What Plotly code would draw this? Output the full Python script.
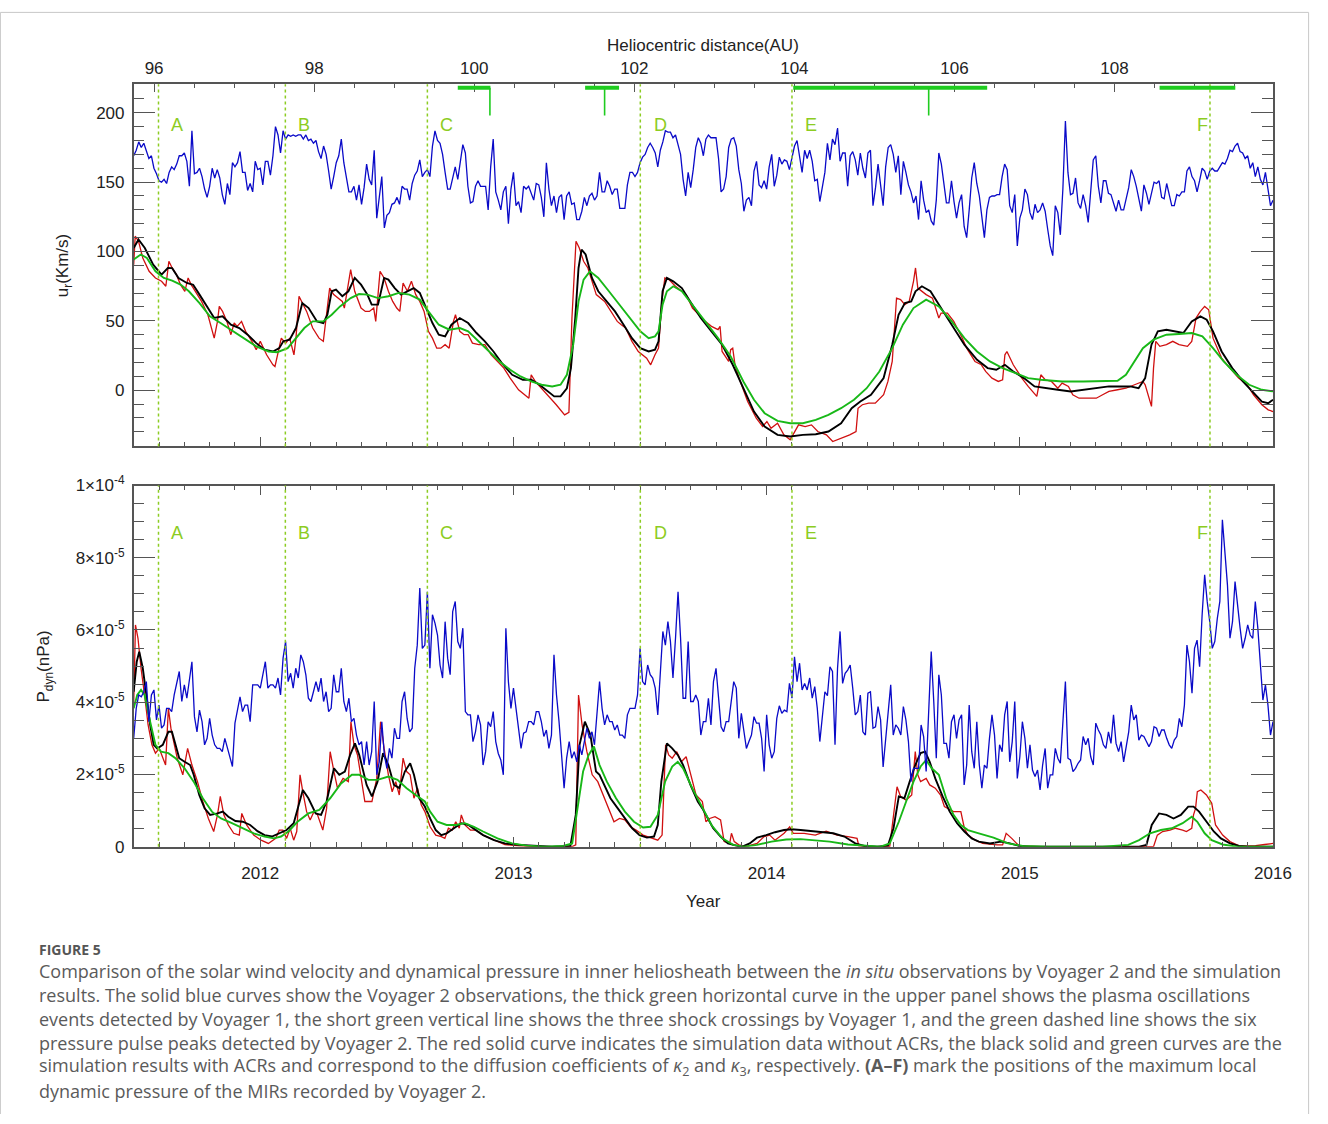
import numpy as np
import plotly.graph_objects as go

W, H = 1328, 1124

# ---------------- data ----------------
# Voyager 2 observation grid (years), 0.01 yr sampling
years_obs = np.round(2011.5 + 0.01 * np.arange(451), 2)

# radial velocity u_r observed by Voyager 2 (km/s)
ur_obs = [
    169,173,179,175,178,172,167,169,160,156,
    151,150,152,149,157,161,159,163,169,169,
    171,165,147,187,156,157,160,154,145,139,
    147,160,153,159,153,141,134,149,141,164,
    161,164,172,157,157,144,149,143,165,159,
    160,148,165,165,155,169,190,184,171,187,
    181,184,183,184,183,184,184,181,184,180,
    181,178,180,172,167,176,170,158,145,154,
    164,169,181,164,152,143,143,147,137,148,
    134,146,163,152,148,173,124,140,154,117,
    126,128,134,135,139,134,147,145,145,137,
    149,155,158,166,154,157,159,154,176,187,
    180,178,170,157,145,145,152,161,152,165,
    177,171,147,135,136,147,151,147,147,147,
    130,161,181,143,137,130,143,147,120,145,
    157,133,136,128,147,145,147,142,137,149,
    148,139,125,164,145,133,140,128,139,141,
    123,140,143,134,135,123,123,129,139,133,
    140,142,137,140,157,143,143,151,147,141,
    145,145,131,131,131,148,157,157,154,157,
    164,168,170,175,178,175,171,161,173,179,
    187,186,186,182,184,177,170,152,140,157,
    146,159,175,182,178,169,
    181,184,182,182,182,167,143,145,154,175,
    181,182,176,159,149,129,137,139,133,158,
    165,148,146,151,145,161,170,147,155,168,
    163,166,165,159,169,176,180,170,157,173,
    167,173,165,151,152,136,147,157,178,166,
    181,177,189,165,171,171,147,169,172,166,
    155,171,160,153,171,173,133,146,163,148,
    133,161,175,177,170,157,169,141,165,157,
    148,143,135,140,123,151,137,128,130,122,
    119,137,171,163,147,135,135,151,136,124,
    135,141,118,110,130,153,164,149,140,123,
    110,130,139,140,140,141,141,154,163,159,
    133,128,141,104,124,130,145,141,128,123,
    134,128,130,135,129,116,104,97,133,128,
    112,145,194,157,141,142,153,135,131,141,
    133,121,141,166,169,147,135,151,151,142,
    141,135,129,137,130,130,139,146,159,154,
    147,139,129,148,142,134,141,150,149,151,
    139,138,149,140,133,133,141,140,143,143,
    158,161,154,151,143,151,160,158,152,158,
    160,158,158,161,164,163,167,173,172,176,
    178,172,171,167,169,160,164,154,161,152,
    148,157,145,133,137,
]

# dynamic pressure observed by Voyager 2 (units of 1e-5 nPa)
pdyn_obs_e5 = [
    3.00,3.83,4.20,4.15,4.29,4.57,3.46,4.20,4.34,3.51,
    3.92,3.28,3.37,3.83,3.83,3.74,4.20,4.57,4.85,4.02,
    4.48,4.11,4.57,5.12,3.60,3.18,3.78,3.46,2.82,3.00,
    3.55,3.09,2.82,2.72,2.72,2.63,3.00,2.72,2.49,2.22,
    3.42,3.83,4.15,3.74,3.92,3.92,3.46,4.48,4.48,4.48,
    4.39,4.76,5.12,4.39,4.48,4.48,4.39,4.67,4.20,5.22,
    5.68,4.57,4.80,4.39,4.94,4.67,5.31,5.12,4.76,4.11,
    4.02,4.29,4.57,4.29,4.67,4.02,4.29,3.74,3.83,4.76,
    4.29,4.29,4.94,4.02,3.74,4.11,3.46,3.55,3.09,2.82,
    2.91,2.26,2.91,2.26,2.63,4.02,1.99,2.35,3.46,2.54,
    2.17,2.72,2.45,3.28,3.00,3.00,4.02,4.29,3.55,3.18,
    3.28,4.94,5.58,7.16,5.49,5.58,7.06,4.94,6.42,6.19,
    5.86,5.03,4.67,6.23,5.22,4.76,6.51,6.79,5.68,5.49,
    6.05,3.74,3.65,3.65,2.91,3.18,3.65,3.37,2.26,2.63,
    3.46,3.32,3.74,2.91,2.58,2.40,1.99,6.05,4.57,3.83,
    4.39,3.83,3.18,2.72,3.14,3.18,3.46,3.46,3.37,3.74,
    3.74,3.46,3.05,3.23,2.72,3.09,5.31,4.20,3.46,2.45,
    1.62,2.45,2.91,2.45,2.63,2.35,2.82,2.54,2.91,3.28,
    3.00,3.18,2.82,3.65,4.57,3.83,3.37,3.65,3.46,3.46,
    3.23,3.37,3.09,3.09,3.00,3.65,3.83,3.83,3.83,4.20,
    5.49,4.57,4.48,5.03,4.76,4.67,4.39,3.65,4.67,5.96,
    5.58,6.23,5.68,4.67,5.77,7.06,5.77,4.11,4.11,5.68,
    4.02,4.02,4.20,4.02,3.09,3.46,
    3.46,4.11,3.37,4.57,4.94,4.20,3.32,3.18,3.46,3.46,
    4.11,4.57,4.39,3.00,3.69,3.18,2.72,2.91,3.09,3.60,
    3.42,3.42,3.00,2.08,3.65,2.82,2.45,2.63,3.55,3.90,
    3.69,3.78,3.74,4.52,4.11,5.26,4.57,5.08,4.34,4.52,
    4.34,4.67,4.11,4.43,3.83,2.91,3.65,4.29,4.18,4.98,
    4.85,2.82,4.94,5.96,4.52,4.80,4.89,5.03,4.39,3.65,
    3.74,4.20,3.18,3.09,4.25,4.29,3.28,3.32,3.88,3.51,
    2.21,2.95,3.69,4.48,3.09,3.37,3.28,3.09,3.88,3.51,
    2.91,1.80,2.17,2.17,2.17,3.37,3.05,2.08,3.65,5.40,
    4.02,2.45,4.76,4.20,2.86,2.86,2.45,3.46,3.65,3.00,
    3.51,3.65,1.71,2.26,3.92,2.63,2.17,3.46,2.26,1.62,
    2.26,2.17,3.00,3.65,3.09,1.89,2.82,2.63,3.65,4.02,
    2.35,2.91,4.02,1.89,2.49,3.46,3.00,2.17,2.82,2.12,
    1.94,2.12,1.57,2.26,2.72,1.62,1.99,1.99,2.72,2.45,
    2.31,3.37,4.57,2.45,2.40,2.08,2.17,2.31,2.40,3.05,
    2.82,3.00,2.49,2.26,3.42,3.23,3.09,2.82,2.72,3.18,
    2.86,3.65,2.86,2.63,2.91,2.35,2.82,3.18,3.92,3.51,
    3.65,2.95,3.09,3.05,2.91,2.77,2.91,3.32,3.28,3.05,
    3.23,3.23,3.00,2.82,2.72,2.95,3.05,3.55,3.32,3.92,
    5.58,5.12,4.25,5.49,5.72,4.98,6.42,7.53,6.79,6.23,
    5.49,5.68,6.32,6.79,9.05,8.26,7.25,5.77,6.23,7.34,
    6.60,6.05,5.49,5.77,6.14,5.86,5.77,6.79,6.05,4.94,
    4.06,4.48,3.92,3.09,3.46,
]

# simulation, u_r (year, km/s): red = no ACRs, black = kappa2, green = kappa3
ur_red = [
    (2011.500,90.5),(2011.506,111),(2011.519,107.4),(2011.536,95.3),(2011.561,85.7),
    (2011.586,80.9),(2011.610,78.5),(2011.627,74.9),(2011.639,92.9),(2011.652,88.1),
    (2011.669,83.3),(2011.685,76.1),(2011.702,71.3),(2011.715,80.9),(2011.727,76.1),
    (2011.743,71.3),(2011.768,64),(2011.793,54.4),(2011.818,37.5),(2011.831,49.6),
    (2011.838,60.4),(2011.851,56.8),(2011.868,49.6),(2011.884,40),(2011.897,48.4),
    (2011.909,46),(2011.926,49.6),(2011.942,42.4),(2011.967,35.2),(2011.984,29.2),
    (2012.000,35.2),(2012.025,25.5),(2012.050,18.3),(2012.058,17.1),(2012.075,32.8),
    (2012.083,37.5),(2012.100,33.9),(2012.116,37.5),(2012.133,25.5),(2012.141,37.5),
    (2012.153,67.7),(2012.166,62.8),(2012.183,56.8),(2012.207,44.8),(2012.232,37.5),
    (2012.249,35.2),(2012.257,47.2),(2012.274,73.6),(2012.290,68.9),(2012.307,66.4),
    (2012.324,64),(2012.332,59.2),(2012.357,86.9),(2012.373,71.3),(2012.398,59.2),
    (2012.415,56.8),(2012.431,56.8),(2012.448,59.2),(2012.456,49.6),(2012.473,85.7),
    (2012.489,80.9),(2012.506,71.3),(2012.523,64),(2012.539,59.2),(2012.551,56.8),
    (2012.564,77.3),(2012.581,71.3),(2012.597,78.5),(2012.614,68.9),(2012.630,64),
    (2012.647,56.8),(2012.664,42.4),(2012.680,37.5),(2012.697,30.3),(2012.713,30.3),
    (2012.730,32.8),(2012.746,30.3),(2012.763,49.6),(2012.771,54.4),(2012.788,42.4),
    (2012.805,40),(2012.821,40),(2012.838,33.9),(2012.863,32.8),(2012.887,32.8),
    (2012.912,25.5),(2012.937,20.7),(2012.962,15.9),(2012.987,8.7),(2013.020,0.3),
    (2013.061,-5.8),(2013.070,11.1),(2013.086,6.3),(2013.111,1.4),(2013.136,-3.3),
    (2013.169,-10.5),(2013.202,-17.8),(2013.219,-16),(2013.231,52),(2013.247,107.4),
    (2013.260,102.5),(2013.277,92.9),(2013.294,88.1),(2013.327,68.9),(2013.360,64),
    (2013.385,56.8),(2013.410,49.6),(2013.426,47.2),(2013.443,44.8),(2013.468,35.2),
    (2013.493,27.9),(2013.526,23.1),(2013.542,18.3),(2013.559,25.5),
    (2013.573,30.3),(2013.586,64),(2013.598,80.9),(2013.614,79.7),(2013.640,74.9),
    (2013.665,71.3),(2013.682,68.9),(2013.707,59.2),(2013.732,54.4),(2013.757,49.6),
    (2013.782,46),(2013.808,43.6),(2013.816,46),(2013.824,27.9),(2013.850,20.7),
    (2013.858,29.2),(2013.866,30.3),(2013.875,18.3),(2013.891,8.7),(2013.925,-8.2),
    (2013.959,-20.2),(2013.984,-26.2),(2014.001,-22.6),(2014.017,-27.4),(2014.043,-23.8),
    (2014.068,-32.2),(2014.093,-35.8),(2014.110,-29.8),(2014.126,-25),(2014.152,-26.2),
    (2014.177,-25),(2014.202,-29.8),(2014.236,-32.2),(2014.261,-37),(2014.294,-34.7),
    (2014.328,-32.2),(2014.353,-29.8),(2014.361,-13),(2014.378,-10.5),(2014.403,-9.4),
    (2014.429,-9.4),(2014.462,-3.3),(2014.479,6.3),(2014.496,20.7),(2014.513,66.4),
    (2014.529,65.3),(2014.546,61.7),(2014.563,64),(2014.580,78.5),(2014.588,88.1),
    (2014.597,73.6),(2014.613,71.3),(2014.630,68.9),(2014.655,66.4),(2014.680,52),
    (2014.689,55.6),(2014.714,55.6),(2014.739,49.6),(2014.756,43.6),(2014.773,37.5),
    (2014.790,30.3),(2014.806,25.5),(2014.823,20.7),(2014.848,18.3),(2014.865,13.5),
    (2014.890,8.7),(2014.915,6.3),(2014.932,7.5),(2014.941,25.5),(2014.949,27.9),
    (2014.974,18.3),(2014.991,13.5),(2015.008,8.7),(2015.033,2.7),(2015.067,-4.5),
    (2015.083,11.1),(2015.100,7.5),(2015.125,6.3),(2015.150,1.4),(2015.167,5.1),
    (2015.192,2.7),(2015.209,-3.3),(2015.234,-5.8),(2015.268,-5.8),(2015.302,-5.8),
    (2015.327,-3.3),(2015.352,-0.9),(2015.386,0.3),(2015.419,1.4),(2015.453,3.9),
    (2015.486,6.3),(2015.495,3.9),(2015.520,-11.7),(2015.528,15.9),(2015.537,35.2),
    (2015.553,31.6),(2015.579,32.8),(2015.604,35.2),(2015.629,32.8),(2015.662,31.6),
    (2015.679,35.2),(2015.696,52),(2015.713,56.8),(2015.730,60.4),(2015.746,58),
    (2015.763,37.5),(2015.797,23.1),(2015.830,15.9),(2015.864,8.7),(2015.898,3.9),
    (2015.923,-3.3),(2015.956,-10.5),(2015.981,-14.2),(2016.000,-15.4),
]
ur_black = [
    (2011.500,102.5),(2011.519,108.6),(2011.544,102.5),(2011.577,90.5),(2011.610,83.3),
    (2011.635,88.1),(2011.652,88),(2011.677,80.9),(2011.710,77.3),(2011.735,76),
    (2011.760,68.9),(2011.793,59.2),(2011.818,52),(2011.851,53.2),(2011.884,47.2),
    (2011.917,44.8),(2011.950,40),(2011.984,33.9),(2012.017,29.2),(2012.050,27.9),
    (2012.075,30.3),(2012.091,35.2),(2012.116,36.4),(2012.141,44.8),(2012.166,62.8),
    (2012.191,59.2),(2012.224,49.6),(2012.249,48.4),(2012.265,54.4),(2012.282,71.3),
    (2012.299,72.5),(2012.324,67.7),(2012.348,71.3),(2012.373,80.9),(2012.398,76.1),
    (2012.423,68.9),(2012.440,61.7),(2012.465,61.7),(2012.489,80.9),(2012.506,79.7),
    (2012.531,73.6),(2012.556,68.9),(2012.581,71.3),(2012.606,73.6),(2012.630,70.1),
    (2012.655,59.2),(2012.680,48.4),(2012.705,40),(2012.730,38.8),(2012.755,47.2),
    (2012.788,52),(2012.821,48.4),(2012.854,41.2),(2012.887,35.2),(2012.921,27.9),
    (2012.954,19.5),(2012.995,11.1),(2013.037,7.5),(2013.070,7.5),(2013.103,3.9),
    (2013.136,-0.9),(2013.161,-4.5),(2013.186,-4.5),(2013.211,1.4),(2013.227,15.9),
    (2013.244,52),(2013.257,88.1),(2013.269,101.4),(2013.285,97.8),(2013.310,80.9),
    (2013.335,71.3),(2013.368,64),(2013.401,56.8),(2013.435,47.2),(2013.468,37.5),
    (2013.501,30.3),(2013.534,27.9),(2013.559,29.2),
    (2013.573,35.2),(2013.589,71.3),(2013.606,80.9),(2013.631,78.5),(2013.665,73.6),
    (2013.698,64),(2013.740,52),(2013.782,42.4),(2013.824,32.8),(2013.866,18.3),
    (2013.908,1.4),(2013.950,-15.4),(2013.992,-26.2),(2014.043,-32.2),(2014.093,-33.4),
    (2014.143,-32.2),(2014.194,-31.8),(2014.244,-29.8),(2014.294,-23.8),(2014.336,-13),
    (2014.370,-8.2),(2014.412,-3.3),(2014.462,8.7),(2014.496,32.8),(2014.521,54.4),
    (2014.546,62.8),(2014.571,64),(2014.588,71.3),(2014.613,74.9),(2014.647,71.3),
    (2014.680,61.7),(2014.731,47.2),(2014.781,32.8),(2014.831,21.9),(2014.873,15.9),
    (2014.907,14.7),(2014.941,18.3),(2014.974,13.5),(2015.016,8.7),(2015.058,2.7),
    (2015.100,1.4),(2015.150,0.3),(2015.201,-0.9),(2015.251,0.3),(2015.302,1.4),
    (2015.352,2.7),(2015.402,2.7),(2015.436,2.7),(2015.469,1.4),(2015.495,8.7),
    (2015.520,32.8),(2015.545,42.4),(2015.579,43.6),(2015.612,42.4),(2015.646,41.2),
    (2015.679,49.6),(2015.713,53.2),(2015.738,50.8),(2015.763,42.4),(2015.797,27.9),
    (2015.839,15.9),(2015.881,6.3),(2015.923,-2.2),(2015.956,-8.2),(2015.981,-9.4),
    (2016.000,-6.9),
]
ur_green = [
    (2011.500,94.2),(2011.528,97.8),(2011.552,95.3),(2011.586,85.7),(2011.619,80.9),
    (2011.652,79),(2011.685,76.1),(2011.718,71.3),(2011.760,62.8),(2011.801,53.2),
    (2011.843,48.4),(2011.884,43.6),(2011.934,37.5),(2011.984,31.6),(2012.033,27.9),
    (2012.067,27.4),(2012.108,30.3),(2012.141,37.5),(2012.174,44.8),(2012.207,49.6),
    (2012.249,49.6),(2012.282,54.4),(2012.315,60.4),(2012.357,66.4),(2012.390,69.3),
    (2012.423,68.9),(2012.465,66.4),(2012.506,67.7),(2012.547,70.1),(2012.589,68.9),
    (2012.630,65.3),(2012.664,56.8),(2012.705,47.2),(2012.747,43.6),(2012.788,44.8),
    (2012.821,42.4),(2012.862,35.2),(2012.904,27.9),(2012.945,20.7),(2012.987,14.7),
    (2013.028,9.9),(2013.070,6.3),(2013.111,3.9),(2013.153,2.7),(2013.186,3.9),
    (2013.211,11.1),(2013.236,32.8),(2013.257,64),(2013.277,79.7),(2013.302,85.7),
    (2013.335,80.9),(2013.377,71.3),(2013.418,61.7),(2013.460,52),(2013.501,42.4),
    (2013.534,37.5),(2013.559,38.8),
    (2013.573,42.4),(2013.589,61.7),(2013.606,71.3),(2013.631,74.9),(2013.665,71.3),
    (2013.707,61.7),(2013.757,49.6),(2013.808,37.5),(2013.858,24.3),(2013.908,6.3),
    (2013.950,-6.9),(2013.992,-16.6),(2014.043,-22.1),(2014.093,-23.8),(2014.143,-23.8),
    (2014.194,-21.4),(2014.244,-17.8),(2014.294,-13),(2014.345,-6.9),(2014.395,1.4),
    (2014.445,13.5),(2014.496,30.3),(2014.538,47.2),(2014.580,59.2),(2014.630,65.3),
    (2014.680,60.4),(2014.731,49.6),(2014.781,37.5),(2014.831,27.9),(2014.882,20.7),
    (2014.932,15.9),(2014.983,12.3),(2015.033,8.7),(2015.083,7.5),(2015.167,6.3),
    (2015.251,6.3),(2015.335,6.3),(2015.386,6.8),(2015.419,11.1),(2015.453,20.7),
    (2015.486,30.3),(2015.528,36.4),(2015.579,40),(2015.629,40.5),(2015.679,41.2),
    (2015.721,38.8),(2015.763,30.3),(2015.805,20.7),(2015.856,11.1),(2015.906,3.9),
    (2015.956,0.3),(2016.000,-0.9),
]

# simulation, dynamic pressure (year, units of 1e-5 nPa)
pdyn_red_e5 = [
    (2011.500,3.92),(2011.507,6.14),(2011.517,5.77),(2011.529,4.94),(2011.543,4.20),
    (2011.557,3.37),(2011.572,2.82),(2011.586,2.59),(2011.601,2.72),(2011.615,2.45),
    (2011.626,2.26),(2011.637,3.83),(2011.647,3.28),(2011.658,2.91),(2011.672,2.45),
    (2011.694,1.99),(2011.713,2.72),(2011.730,2.26),(2011.752,1.80),(2011.773,1.25),
    (2011.795,0.78),(2011.816,0.42),(2011.831,0.88),(2011.842,1.39),(2011.856,0.88),
    (2011.874,0.60),(2011.895,0.37),(2011.917,0.32),(2011.927,0.92),(2011.946,0.60),
    (2011.974,0.32),(2012.003,0.18),(2012.032,0.09),(2012.061,0.23),(2012.075,0.46),
    (2012.089,0.46),(2012.104,0.23),(2012.118,0.51),(2012.132,0.18),(2012.144,0.42),
    (2012.157,1.99),(2012.168,1.52),(2012.183,0.97),(2012.197,0.74),(2012.212,0.97),
    (2012.226,0.88),(2012.247,0.46),(2012.262,1.06),(2012.276,2.63),(2012.291,2.08),
    (2012.305,1.62),(2012.327,1.89),(2012.348,1.80),(2012.358,3.46),(2012.370,2.82),
    (2012.384,2.54),(2012.398,1.89),(2012.413,1.25),(2012.427,1.25),(2012.441,1.25),
    (2012.460,1.89),(2012.475,3.46),(2012.489,2.72),(2012.506,1.99),(2012.521,1.52),
    (2012.535,1.80),(2012.549,1.43),(2012.564,2.45),(2012.578,2.08),(2012.592,1.99),
    (2012.607,1.34),(2012.621,1.62),(2012.636,1.15),(2012.650,0.97),(2012.671,0.55),
    (2012.693,0.32),(2012.715,0.28),(2012.729,0.23),(2012.743,0.51),(2012.758,0.46),
    (2012.772,0.69),(2012.786,0.51),(2012.794,0.88),(2012.808,0.60),(2012.830,0.46),
    (2012.851,0.46),(2012.880,0.32),(2012.923,0.18),(2012.966,0.06),(2013.024,0.02),
    (2013.110,0.0),(2013.232,0.0),(2013.246,0.05),(2013.257,4.20),(2013.271,3.37),
    (2013.290,2.63),(2013.311,1.99),(2013.333,1.80),(2013.354,1.43),(2013.376,1.06),
    (2013.397,0.69),(2013.419,0.78),(2013.440,0.74),(2013.462,0.55),(2013.484,0.46),
    (2013.512,0.32),(2013.541,0.25),(2013.570,0.18),(2013.587,0.32),(2013.601,2.82),
    (2013.613,2.54),(2013.627,2.45),(2013.645,2.63),(2013.663,2.35),(2013.682,2.49),
    (2013.699,1.99),(2013.721,1.43),
    (2013.746,1.25),(2013.760,0.69),(2013.775,0.78),(2013.796,0.83),(2013.818,0.74),
    (2013.832,0.14),(2013.854,0.09),(2013.861,0.37),(2013.872,0.14),(2013.890,0.05),
    (2013.918,0.0),(2013.962,0.09),(2013.990,0.28),(2014.012,0.32),(2014.033,0.18),
    (2014.069,0.37),(2014.091,0.55),(2014.105,0.37),(2014.148,0.37),(2014.192,0.32),
    (2014.235,0.43),(2014.278,0.32),(2014.321,0.28),(2014.357,0.23),(2014.364,0.02),
    (2014.422,0.0),(2014.486,0.0),(2014.501,0.88),(2014.515,1.66),(2014.529,1.39),
    (2014.551,1.29),(2014.573,1.43),(2014.587,2.63),(2014.597,1.99),(2014.608,1.80),
    (2014.630,1.89),(2014.644,1.71),(2014.666,1.62),(2014.687,1.43),(2014.702,1.11),
    (2014.738,0.97),(2014.767,0.97),(2014.781,0.51),(2014.795,0.32),(2014.824,0.18),
    (2014.853,0.09),(2014.882,0.06),(2014.910,0.05),(2014.932,0.05),(2014.946,0.37),
    (2014.968,0.23),(2014.997,0.02),(2015.083,0.0),(2015.528,0.0),(2015.543,0.32),
    (2015.564,0.42),(2015.593,0.46),(2015.615,0.51),(2015.643,0.46),(2015.658,0.42),
    (2015.679,0.51),(2015.686,0.88),(2015.694,1.06),(2015.701,1.52),(2015.715,1.57),
    (2015.737,1.43),(2015.758,1.20),(2015.773,0.60),(2015.801,0.32),(2015.830,0.14),
    (2015.866,0.02),(2015.931,0.03),(2015.967,0.06),(2016.000,0.09),
]
pdyn_black_e5 = [
    (2011.500,4.29),(2011.512,5.12),(2011.522,5.40),(2011.536,4.94),(2011.550,4.20),
    (2011.565,3.37),(2011.579,2.82),(2011.593,2.72),(2011.615,2.82),(2011.637,3.18),
    (2011.651,3.18),(2011.665,2.82),(2011.680,2.45),(2011.701,2.35),(2011.723,2.26),
    (2011.737,1.99),(2011.759,1.43),(2011.780,1.06),(2011.802,0.88),(2011.831,0.92),
    (2011.852,0.97),(2011.874,0.83),(2011.902,0.71),(2011.931,0.69),(2011.960,0.60),
    (2011.989,0.43),(2012.017,0.32),(2012.046,0.28),(2012.075,0.37),(2012.104,0.46),
    (2012.132,0.65),(2012.154,1.25),(2012.168,1.57),(2012.190,1.34),(2012.219,0.92),
    (2012.240,0.88),(2012.262,1.25),(2012.291,2.17),(2012.312,1.99),(2012.334,2.08),
    (2012.355,2.54),(2012.374,2.86),(2012.391,2.54),(2012.420,1.71),(2012.441,1.39),
    (2012.463,1.80),(2012.485,2.59),(2012.506,2.26),(2012.528,1.71),(2012.549,1.62),
    (2012.571,2.08),(2012.592,2.31),(2012.607,1.99),(2012.628,1.34),(2012.650,1.11),
    (2012.671,0.78),(2012.693,0.46),(2012.715,0.32),(2012.736,0.37),(2012.765,0.51),
    (2012.794,0.65),(2012.822,0.60),(2012.851,0.46),(2012.880,0.32),(2012.923,0.18),
    (2012.966,0.09),(2013.024,0.05),(2013.081,0.02),(2013.153,0.0),(2013.225,0.02),
    (2013.246,0.88),(2013.261,2.82),(2013.282,3.46),(2013.304,3.09),(2013.326,2.08),
    (2013.340,1.99),(2013.361,1.66),(2013.383,1.34),(2013.412,1.06),(2013.440,0.78),
    (2013.469,0.51),(2013.498,0.32),(2013.527,0.25),(2013.555,0.28),(2013.570,0.60),
    (2013.584,1.80),(2013.606,2.86),(2013.627,2.72),(2013.649,2.54),(2013.670,2.26),
    (2013.699,1.71),(2013.728,1.25),
    (2013.746,1.06),(2013.768,0.78),(2013.789,0.51),(2013.818,0.28),(2013.847,0.09),
    (2013.883,0.02),(2013.904,0.0),(2013.933,0.09),(2013.962,0.25),(2013.998,0.32),
    (2014.033,0.40),(2014.069,0.46),(2014.098,0.48),(2014.134,0.46),(2014.177,0.43),
    (2014.220,0.42),(2014.263,0.37),(2014.307,0.28),(2014.350,0.09),(2014.386,0.02),
    (2014.436,0.0),(2014.479,0.03),(2014.501,0.51),(2014.522,1.39),(2014.544,1.34),
    (2014.565,1.80),(2014.587,2.26),(2014.608,2.59),(2014.626,2.63),(2014.644,2.35),
    (2014.666,1.89),(2014.695,1.39),(2014.723,0.97),(2014.752,0.65),(2014.781,0.42),
    (2014.810,0.23),(2014.838,0.14),(2014.882,0.09),(2014.925,0.14),(2014.961,0.09),
    (2014.997,0.02),(2015.040,0.0),(2015.183,0.0),(2015.327,0.0),(2015.471,0.0),
    (2015.500,0.05),(2015.521,0.60),(2015.550,0.92),(2015.579,0.88),(2015.607,0.78),
    (2015.636,0.88),(2015.665,1.11),(2015.686,1.11),(2015.708,0.97),(2015.737,0.69),
    (2015.766,0.42),(2015.794,0.23),(2015.830,0.09),(2015.866,0.02),(2015.902,0.0),
    (2016.000,0.0),
]
pdyn_green_e5 = [
    (2011.500,3.83),(2011.514,4.20),(2011.529,4.34),(2011.543,4.20),(2011.565,3.46),
    (2011.586,2.82),(2011.608,2.63),(2011.637,2.59),(2011.665,2.45),(2011.701,2.17),
    (2011.737,1.80),(2011.773,1.34),(2011.809,0.97),(2011.845,0.78),(2011.888,0.65),
    (2011.931,0.51),(2011.974,0.37),(2012.017,0.28),(2012.053,0.23),(2012.082,0.28),
    (2012.111,0.42),(2012.147,0.69),(2012.190,0.92),(2012.233,1.02),(2012.276,1.34),
    (2012.319,1.75),(2012.362,1.99),(2012.391,1.99),(2012.427,1.85),(2012.463,1.85),
    (2012.506,1.94),(2012.542,1.85),(2012.578,1.62),(2012.614,1.43),(2012.650,1.25),
    (2012.671,0.97),(2012.700,0.69),(2012.736,0.60),(2012.772,0.60),(2012.808,0.65),
    (2012.844,0.55),(2012.880,0.42),(2012.937,0.23),(2012.995,0.09),(2013.052,0.03),
    (2013.124,0.0),(2013.196,0.02),(2013.232,0.09),(2013.254,1.06),(2013.275,2.08),
    (2013.297,2.54),(2013.318,2.77),(2013.340,2.26),(2013.369,1.80),(2013.405,1.34),
    (2013.440,0.97),(2013.476,0.69),(2013.512,0.53),(2013.541,0.55),(2013.570,0.88),
    (2013.599,1.80),(2013.627,2.22),(2013.649,2.35),(2013.670,2.17),(2013.706,1.62),
    (2013.746,1.06),(2013.782,0.60),(2013.825,0.23),(2013.868,0.05),(2013.911,0.0),
    (2013.962,0.05),(2014.019,0.14),(2014.077,0.20),(2014.134,0.21),(2014.192,0.18),
    (2014.249,0.14),(2014.321,0.06),(2014.393,0.02),(2014.450,0.0),(2014.486,0.09),
    (2014.522,0.69),(2014.551,1.25),(2014.580,1.80),(2014.608,2.22),(2014.630,2.40),
    (2014.652,2.17),(2014.680,1.99),(2014.709,1.34),(2014.738,0.88),(2014.767,0.60),
    (2014.795,0.46),(2014.838,0.37),(2014.896,0.25),(2014.953,0.09),(2015.011,0.02),
    (2015.112,0.0),(2015.327,0.0),(2015.428,0.05),(2015.471,0.18),(2015.514,0.37),
    (2015.557,0.46),(2015.600,0.51),(2015.643,0.65),(2015.679,0.83),(2015.701,0.69),
    (2015.730,0.37),(2015.758,0.18),(2015.801,0.06),(2015.859,0.0),(2016.000,0.0),
]

# A-F: positions of maximum local dynamic pressure of MIRs (Voyager 2)
mir_labels = ["A", "B", "C", "D", "E", "F"]
mir_years = [2011.598, 2012.099, 2012.660, 2013.501, 2014.100, 2015.751]
mir_label_shift = [19, 19, 19, 20, 19, -7]  # px, label placement style

# Voyager 1 plasma oscillation events (start, end year) and shock crossings (year)
plasma_osc = [(2012.780, 2012.909), (2013.283, 2013.417), (2014.105, 2014.871), (2015.552, 2015.851)]
shock_years = [2012.907, 2013.360, 2014.640]
event_level = 218      # km/s level of the horizontal bars
shock_bottom = 198     # km/s lower end of the shock markers

# axis tick labels
year_ticks = [2012, 2013, 2014, 2015, 2016]
au_ticks = [96, 98, 100, 102, 104, 106, 108]
au_range = [95.745, 109.98]
ur_ticks = [0, 50, 100, 150, 200]
pdyn_tickvals = [0, 2e-5, 4e-5, 6e-5, 8e-5, 1e-4]
pdyn_ticktext = ["0", "2×10<sup>-5</sup>", "4×10<sup>-5</sup>", "6×10<sup>-5</sup>",
                 "8×10<sup>-5</sup>", "1×10<sup>-4</sup>"]

caption_title = "FIGURE 5"
caption_lines = [
    "Comparison of the solar wind velocity and dynamical pressure in inner heliosheath between the <i>in situ</i> observations by Voyager 2 and the simulation",
    "results. The solid blue curves show the Voyager 2 observations, the thick green horizontal curve in the upper panel shows the plasma oscillations",
    "events detected by Voyager 1, the short green vertical line shows the three shock crossings by Voyager 1, and the green dashed line shows the six",
    "pressure pulse peaks detected by Voyager 2. The red solid curve indicates the simulation data without ACRs, the black solid and green curves are the",
    "simulation results with ACRs and correspond to the diffusion coefficients of <i>κ</i><sub>2</sub> and <i>κ</i><sub>3</sub>, respectively. <b>(A–F)</b> mark the positions of the maximum local",
    "dynamic pressure of the MIRs recorded by Voyager 2.",
]

# ---------------- styles ----------------
BLUE = "#0a0ac8"
RED = "#d01010"
BLACK = "#000000"
GREEN = "#18b818"
EVENT_GREEN = "#1fcc1f"
MARK_GREEN = "#8ccc22"
AXIS = "#555555"
TXT = "#222222"
FONT = "Liberation Sans, Arial, sans-serif"
CAP_FONT = "Open Sans, sans-serif"

# layout positions are given in target-picture pixels; the photographed page
# comes out slightly scaled/offset, so positions are mapped back to page pixels
SX, SY, OY = 0.988, 0.980, 10.7


def px(x):
    return (x / SX) / W


def py(y):
    return 1 - ((y - OY) / SY) / H


XD = [px(134), px(1276)]
TOP_D = [py(445), py(83)]
BOT_D = [py(845), py(484)]


def unzip(pairs, scale=1.0):
    t = [p[0] for p in pairs]
    v = [p[1] * scale for p in pairs]
    return t, v


fig = go.Figure()

# --- top panel ---
for pairs, col, wid in [(ur_red, RED, 1.3), (ur_black, BLACK, 1.9), (ur_green, GREEN, 1.9)]:
    t, v = unzip(pairs)
    fig.add_trace(go.Scatter(x=t, y=v, mode="lines", line=dict(color=col, width=wid),
                             xaxis="x", yaxis="y", showlegend=False, hoverinfo="skip"))
fig.add_trace(go.Scatter(x=years_obs, y=ur_obs, mode="lines", line=dict(color=BLUE, width=1.3),
                         xaxis="x", yaxis="y", showlegend=False, hoverinfo="skip"))
# empty trace that attaches the heliocentric-distance axis (no visible marks)
fig.add_trace(go.Scatter(x=au_ticks, y=[None] * len(au_ticks), mode="lines",
                         xaxis="x3", yaxis="y", showlegend=False, hoverinfo="skip"))

# --- bottom panel ---
for pairs, col, wid in [(pdyn_red_e5, RED, 1.3), (pdyn_black_e5, BLACK, 1.9), (pdyn_green_e5, GREEN, 1.9)]:
    t, v = unzip(pairs, 1e-5)
    fig.add_trace(go.Scatter(x=t, y=v, mode="lines", line=dict(color=col, width=wid),
                             xaxis="x2", yaxis="y2", showlegend=False, hoverinfo="skip"))
fig.add_trace(go.Scatter(x=years_obs, y=np.array(pdyn_obs_e5) * 1e-5, mode="lines",
                         line=dict(color=BLUE, width=1.3),
                         xaxis="x2", yaxis="y2", showlegend=False, hoverinfo="skip"))

shapes = []
annotations = []

# dotted MIR lines and labels
for lab, yr, sh in zip(mir_labels, mir_years, mir_label_shift):
    for xr, yr_ref in [("x", "y domain"), ("x2", "y2 domain")]:
        shapes.append(dict(type="line", xref=xr, yref=yr_ref, x0=yr, x1=yr, y0=0, y1=1,
                           line=dict(color=MARK_GREEN, width=1.5, dash="dot")))
    for xr, ypix in [("x", 124), ("x2", 531)]:
        annotations.append(dict(x=yr, xref=xr, y=py(ypix), yref="paper", text=lab, showarrow=False,
                                xshift=sh, xanchor="center", yanchor="middle",
                                font=dict(family=FONT, size=18, color=MARK_GREEN)))

# Voyager 1 events
for a, b in plasma_osc:
    shapes.append(dict(type="line", xref="x", yref="y", x0=a, x1=b, y0=event_level, y1=event_level,
                       line=dict(color=EVENT_GREEN, width=4)))
for s in shock_years:
    shapes.append(dict(type="line", xref="x", yref="y", x0=s, x1=s, y0=event_level, y1=shock_bottom,
                       line=dict(color=EVENT_GREEN, width=1.6)))

# border of figure box
bx0, bx1, by0 = 0.4 / W, 1 - 0.4 / W, 1 - 0.4 / H
for x0, y0, x1, y1 in [(bx0, by0, bx1, by0), (bx0, by0, bx0, 0), (bx1, by0, bx1, 0)]:
    shapes.append(dict(type="line", xref="paper", yref="paper", x0=x0, x1=x1,
                       y0=y0, y1=y1, line=dict(color="#c8c8c8", width=1)))

# axis titles
tfont = dict(family=FONT, size=17, color=TXT)
annotations += [
    dict(x=px(705), y=py(44), xref="paper", yref="paper", text="Heliocentric distance(AU)",
         showarrow=False, xanchor="center", yanchor="middle", font=tfont),
    dict(x=px(705), y=py(900), xref="paper", yref="paper", text="Year", showarrow=False,
         xanchor="center", yanchor="middle", font=tfont),
    dict(x=px(65), y=py(264), xref="paper", yref="paper", text="u<sub>r</sub>(Km/s)",
         showarrow=False, textangle=-90, xanchor="center", yanchor="middle", font=tfont),
    dict(x=px(45), y=py(665), xref="paper", yref="paper", text="P<sub>dyn</sub>(nPa)",
         showarrow=False, textangle=-90, xanchor="center", yanchor="middle", font=tfont),
]

# caption
annotations.append(dict(x=px(37), y=py(948), xref="paper", yref="paper", xanchor="left",
                        yanchor="middle", text="<b>" + caption_title + "</b>", showarrow=False,
                        font=dict(family=CAP_FONT, size=14, color="#555555")))
for i, line in enumerate(caption_lines):
    annotations.append(dict(x=px(37), y=py(969 + 24 * i), xref="paper", yref="paper",
                            xanchor="left", yanchor="middle", text=line, showarrow=False,
                            font=dict(family=CAP_FONT, size=18, color="#5a5a5a")))

tickfont = dict(family=FONT, size=17, color=TXT)
common_x = dict(range=[2011.5, 2016.0], showgrid=False, zeroline=False, showline=True,
                linecolor=AXIS, linewidth=1.5, ticks="inside", ticklen=10, tickwidth=1.2,
                tickcolor=AXIS, tickmode="array", tickvals=year_ticks,
                minor=dict(ticks="inside", ticklen=5, tickwidth=1.2, tickcolor=AXIS,
                           tickmode="linear", tick0=2012, dtick=0.1, showgrid=False),
                tickfont=tickfont)

fig.update_layout(
    width=W, height=H, margin=dict(l=0, r=0, t=0, b=0),
    paper_bgcolor="white", plot_bgcolor="white", showlegend=False,
    xaxis=dict(common_x, domain=XD, anchor="y", showticklabels=False, mirror=False),
    xaxis2=dict(common_x, domain=XD, anchor="y2", mirror="ticks", ticklabelstandoff=10),
    xaxis3=dict(range=au_range, overlaying="x", side="top", anchor="y", showgrid=False,
                zeroline=False, showline=True, linecolor=AXIS, linewidth=1.5,
                ticks="inside", ticklen=8, tickwidth=1.2, tickcolor=AXIS,
                tickmode="array", tickvals=au_ticks, tickfont=tickfont, ticklabelstandoff=2,
                minor=dict(ticks="inside", ticklen=4, tickwidth=1.2, tickcolor=AXIS,
                           tickmode="linear", tick0=96, dtick=0.5, showgrid=False)),
    yaxis=dict(domain=TOP_D, anchor="x", range=[-40.6, 220.5], showgrid=False, zeroline=False,
               showline=True, linecolor=AXIS, linewidth=1.5, mirror="ticks",
               ticks="inside", ticklen=22, tickwidth=1.2, tickcolor=AXIS,
               tickmode="array", tickvals=ur_ticks, tickfont=tickfont, ticklabelstandoff=4,
               minor=dict(ticks="inside", ticklen=11, tickwidth=1.2, tickcolor=AXIS,
                          tickmode="linear", tick0=0, dtick=10, showgrid=False)),
    yaxis2=dict(domain=BOT_D, anchor="x2", range=[0, 1.0e-4], showgrid=False, zeroline=False,
                showline=True, linecolor=AXIS, linewidth=1.5, mirror="ticks",
                ticks="inside", ticklen=22, tickwidth=1.2, tickcolor=AXIS,
                tickmode="array", tickvals=pdyn_tickvals, ticktext=pdyn_ticktext,
                tickfont=tickfont, ticklabelstandoff=4,
                minor=dict(ticks="inside", ticklen=11, tickwidth=1.2, tickcolor=AXIS,
                           tickmode="linear", tick0=0, dtick=5e-6, showgrid=False)),
    shapes=shapes, annotations=annotations,
)

fig.write_html("out.html", config={"displayModeBar": False},
               post_script="document.body.style.margin='0';document.body.style.overflow='hidden';")
